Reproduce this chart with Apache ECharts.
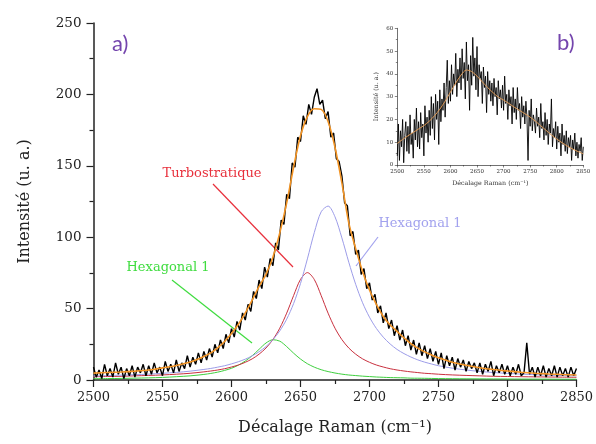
<!DOCTYPE html>
<html><head><meta charset="utf-8">
<script src="https://cdn.jsdelivr.net/npm/echarts@6/dist/echarts.min.js"></script>
<style>html,body{margin:0;padding:0;background:#fff}#c{width:596px;height:444px}</style>
</head><body><div id="c"></div>
<script>
// ---- main panel a) : fitted components (x in cm-1) ----
const fitX = [2500,2510,2520,2530,2540,2550,2560,2570,2580,
  2585,2590,2595,2600,2605,2610,2615,2620,2625,2630,2635,2640,2645,2650,2655,2660,2665,2670,2675,2680,2685,2690,2695,2700,2705,2710,2715,2720,2725,2730,2735,2740,2745,
  2750,2760,2770,2780,2790,2800,2810,2820,2830,2840,2850];
const blueY = [2.8,3.1,3.4,3.7,4.1,4.7,5.3,6.2,7.4,
  8.1,9.0,10.0,11.3,12.8,14.6,16.9,19.8,23.4,28.2,34.4,42.6,53.5,67.5,84.8,103.2,117.8,121.8,114.3,99.5,82.5,67.0,54.1,44.0,36.1,30.0,25.2,21.4,18.5,16.1,14.1,12.5,11.2,
  10.0,8.3,7.0,6.0,5.2,4.6,4.1,3.7,3.4,3.1,2.9];
const redY = [2.3,2.45,2.6,2.9,3.2,3.55,4.05,4.7,5.7,
  6.3,7.0,7.9,9.1,10.5,12.4,14.8,18.1,22.4,28.3,36.3,46.8,59.1,70.4,75.2,70.4,59.1,46.8,36.3,28.3,22.4,18.1,14.8,12.4,10.5,9.1,7.9,7.0,6.3,5.7,5.2,4.7,4.4,
  4.05,3.55,3.2,2.9,2.6,2.45,2.3,2.2,2.1,2.0,1.9];
const greenY = [0.9,1.0,1.1,1.3,1.5,1.8,2.3,2.9,3.9,
  4.6,5.5,6.7,8.2,10.4,13.3,17.0,21.5,25.9,28.2,27.2,23.4,18.8,14.7,11.4,9.0,7.2,5.9,4.9,4.1,3.5,3.1,2.7,2.4,2.1,1.9,1.7,1.6,1.5,1.3,1.25,1.2,1.1,
  1.0,0.9,0.85,0.8,0.75,0.7,0.65,0.62,0.6,0.58,0.56];
const sumY = [4.8,5.2,5.6,6.2,7.0,8.5,10.2,12.6,16.5,
  19.0,22.5,27.0,32.5,39.0,47.0,56.0,65.5,74.0,86.0,103.0,124.0,149.0,171.0,184.5,190.0,189.5,181.0,163.0,138.0,110.0,92.0,76.0,63.0,53.0,44.5,38.5,34.0,29.5,25.5,22.3,19.7,17.5,
  15.5,12.5,10.3,8.6,7.3,6.3,5.4,4.7,4.2,3.8,3.5];

// ---- main panel a) : measured spectrum, one value every 2 cm-1 from 2500 ----
const rawStart = 2500, rawStep = 2;
const rawY = [
  9,2,7,1,11,3,8,2,12,4,
  9,1,8,3,10,2,9,5,11,3,
  10,4,12,5,9,3,13,6,11,5,
  14,6,12,8,17,9,16,11,19,12,
  20,14,22,16,25,19,28,22,32,26,
  36,30,41,35,47,42,53,48,62,57,
  70,64,79,72,85,80,96,91,112,109,
  130,127,152,149,170,167,185,179,193,186,
  198,204,193,196,183,188,170,173,155,153,
  143,124,122,101,104,88,91,74,78,64,
  68,56,60,47,52,40,47,36,42,31,
  38,28,35,24,31,21,28,18,26,17,
  24,15,22,13,20,11,19,8,17,10,
  16,7,15,9,14,6,13,8,12,5,
  12,4,11,6,13,3,10,5,11,4,
  10,3,9,4,11,3,5,26,4,9,
  2,9,3,10,2,8,3,10,2,9,
  3,8,2,9,3,8];

// ---- inset b) ----
const insetFitX = [2500,2510,2520,2530,2540,2550,2560,2570,2580,2590,2600,2610,2620,2630,2640,2650,2660,2670,2680,2690,2700,2710,2720,2730,2740,2750,2760,2770,2780,2790,2800,2810,2820,2830,2840,2850];
const insetFitY = [9.5,11.2,12.8,14.3,15.8,17.3,19.2,21.6,24.5,28.0,32.0,36.0,39.5,41.7,41.0,39.0,36.5,34.0,31.8,29.8,28.5,27.0,25.4,24.0,22.5,21.0,19.2,17.2,15.2,13.2,11.4,9.8,8.3,7.0,5.9,4.9];
const insetRawY = [
  4,18,2,15,8,20,1,13,19,6,
  17,5,22,9,14,3,20,11,25,8,
  19,7,23,12,18,4,26,14,21,10,
  24,13,30,16,27,11,31,20,28,9,
  33,19,29,24,36,21,34,46,27,37,
  28,44,31,40,35,49,30,42,36,47,
  33,51,38,45,29,54,37,44,24,48,
  35,56,39,47,33,52,30,44,38,41,
  27,43,34,39,23,41,31,37,28,36,
  26,38,30,34,22,37,29,33,25,35,
  24,39,27,31,20,33,26,30,18,34,
  23,29,20,34,24,27,16,30,21,26,
  18,28,21,2,24,17,29,15,22,19,
  14,25,17,21,12,27,16,19,11,23,
  13,20,9,18,14,29,8,16,12,19,
  7,17,10,14,4,18,9,13,6,15,
  5,12,8,13,2,11,7,14,4,10,
  3,9,6,12,2,8];

const xTicksMain = {min: 2500, max: 2850, interval: 50};
const yTicksMain = {min: 0, max: 250, interval: 50};
const yTicksInset = {min: 0, max: 60, interval: 10};

const pair = (xs, ys) => xs.map((x, i) => [x, ys[i]]);
const rawPairs = (ys) => ys.map((y, i) => [rawStart + i * rawStep, y]);
const plain = (v) => String(v);

const SERIF = 'DejaVu Serif';
const chart = echarts.init(document.getElementById('c'), null, {renderer: 'canvas'});

function axisCommon(big) {
  return {
    axisLine: {show: true, onZero: false, lineStyle: {color: big ? '#222' : '#333', width: big ? 1.5 : 0.7}},
    axisTick: {show: true, inside: false, length: big ? 7 : 2.5, lineStyle: {color: big ? '#222' : '#333', width: big ? 1.2 : 0.6}},
    minorTick: {show: true, splitNumber: 2, length: big ? 4 : 1.5, lineStyle: {color: big ? '#222' : '#333', width: big ? 1.2 : 0.6}},
    splitLine: {show: false},
    minorSplitLine: {show: false}
  };
}

chart.setOption({
  animation: false,
  backgroundColor: '#fff',
  grid: [
    {left: 93.5, top: 23, width: 483.5, height: 357, containLabel: false},
    {left: 397.3, top: 28.3, width: 186, height: 136.7, containLabel: false}
  ],
  xAxis: [
    Object.assign({type: 'value', gridIndex: 0, min: xTicksMain.min, max: xTicksMain.max, interval: xTicksMain.interval,
      name: 'Décalage Raman (cm⁻¹)', nameLocation: 'middle', nameGap: 40,
      nameTextStyle: {fontFamily: SERIF, fontSize: 16, color: '#222'},
      axisLabel: {fontFamily: SERIF, fontSize: 13, color: '#222', margin: 11, formatter: plain}}, axisCommon(true)),
    Object.assign({type: 'value', gridIndex: 1, min: xTicksMain.min, max: xTicksMain.max, interval: xTicksMain.interval,
      name: 'Décalage Raman (cm⁻¹)', nameLocation: 'middle', nameGap: 15,
      nameTextStyle: {fontFamily: SERIF, fontSize: 6.3, color: '#333'},
      axisLabel: {fontFamily: SERIF, fontSize: 5.5, color: '#333', margin: 4, formatter: plain}}, axisCommon(false))
  ],
  yAxis: [
    Object.assign({type: 'value', gridIndex: 0, min: yTicksMain.min, max: yTicksMain.max, interval: yTicksMain.interval,
      name: 'Intensité (u. a.)', nameLocation: 'middle', nameGap: 61,
      nameTextStyle: {fontFamily: SERIF, fontSize: 16, color: '#222'},
      axisLabel: {fontFamily: SERIF, fontSize: 13.5, color: '#222', margin: 12, formatter: plain}}, axisCommon(true)),
    Object.assign({type: 'value', gridIndex: 1, min: yTicksInset.min, max: yTicksInset.max, interval: yTicksInset.interval,
      name: 'Intensité (u. a.)', nameLocation: 'middle', nameGap: 18,
      nameTextStyle: {fontFamily: SERIF, fontSize: 6.3, color: '#333'},
      axisLabel: {fontFamily: SERIF, fontSize: 5.5, color: '#333', margin: 4, formatter: plain}}, axisCommon(false))
  ],
  series: [
    {type: 'line', xAxisIndex: 0, yAxisIndex: 0, data: pair(fitX, greenY), showSymbol: false, smooth: 0.3,
      lineStyle: {color: '#3fcf3f', width: 1}, z: 2},
    {type: 'line', xAxisIndex: 0, yAxisIndex: 0, data: pair(fitX, redY), showSymbol: false, smooth: 0.3,
      lineStyle: {color: '#c8303e', width: 1}, z: 2},
    {type: 'line', xAxisIndex: 0, yAxisIndex: 0, data: pair(fitX, blueY), showSymbol: false, smooth: 0.3,
      lineStyle: {color: '#9c9ce8', width: 1}, z: 2},
    {type: 'line', xAxisIndex: 0, yAxisIndex: 0, data: rawPairs(rawY), showSymbol: false,
      lineStyle: {color: '#000', width: 1.4}, z: 3},
    {type: 'line', xAxisIndex: 0, yAxisIndex: 0, data: pair(fitX, sumY), showSymbol: false, smooth: 0.3,
      lineStyle: {color: '#f39424', width: 1.6}, z: 4},
    {type: 'line', xAxisIndex: 1, yAxisIndex: 1, data: rawPairs(insetRawY), showSymbol: false,
      lineStyle: {color: '#000', width: 0.9}, z: 3},
    {type: 'line', xAxisIndex: 1, yAxisIndex: 1, data: pair(insetFitX, insetFitY), showSymbol: false, smooth: 0.3,
      lineStyle: {color: '#e09a55', width: 1}, z: 4}
  ],
  graphic: [
    {type: 'text', x: 112, y: 44, style: {text: 'a)', font: '22px Lato', fill: '#7445ad', align: 'left', verticalAlign: 'middle'}},
    {type: 'text', x: 557, y: 43, style: {text: 'b)', font: '22px Lato', fill: '#7445ad', align: 'left', verticalAlign: 'middle'}},
    {type: 'text', x: 212, y: 174, style: {text: 'Turbostratique', font: '13px "DejaVu Serif"', fill: '#e8303c', align: 'center', verticalAlign: 'middle'}},
    {type: 'line', shape: {x1: 213, y1: 184, x2: 293, y2: 267}, style: {stroke: '#e8303c', lineWidth: 1.2}},
    {type: 'text', x: 168, y: 268, style: {text: 'Hexagonal 1', font: '13px "DejaVu Serif"', fill: '#3fdc3f', align: 'center', verticalAlign: 'middle'}},
    {type: 'line', shape: {x1: 172, y1: 280, x2: 252, y2: 343}, style: {stroke: '#3fdc3f', lineWidth: 1.2}},
    {type: 'text', x: 420, y: 224, style: {text: 'Hexagonal 1', font: '13px "DejaVu Serif"', fill: '#a2a2ee', align: 'center', verticalAlign: 'middle'}},
    {type: 'line', shape: {x1: 378, y1: 237, x2: 356, y2: 266}, style: {stroke: '#a2a2ee', lineWidth: 1.2}}
  ]
});
</script></body></html>
